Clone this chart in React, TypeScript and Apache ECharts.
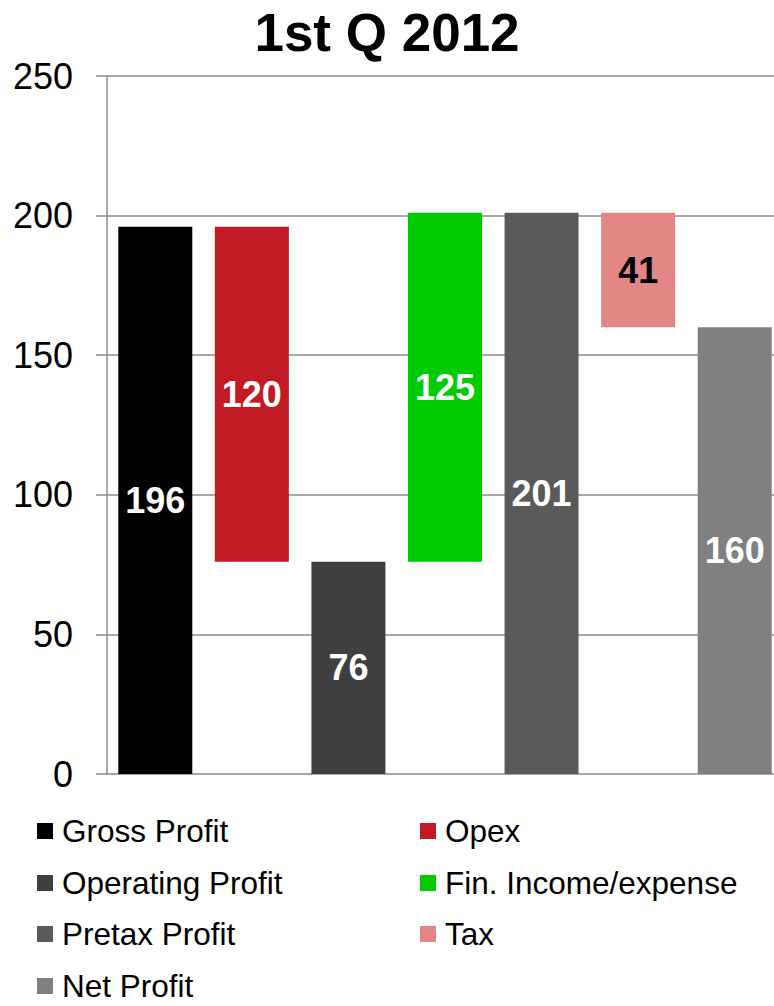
import React, { useEffect, useRef } from "react";
import * as echarts from "echarts";

const categories = [
  "Gross Profit",
  "Opex",
  "Operating Profit",
  "Fin. Income/expense",
  "Pretax Profit",
  "Tax",
  "Net Profit",
];
const values = [196, 120, 76, 125, 201, 41, 160];
const bases = [0, 76, 0, 76, 0, 160, 0];
const colors = ["#000000", "#c21b26", "#404040", "#00cc00", "#5a5a5a", "#e38686", "#808080"];
const labelColors = ["#ffffff", "#ffffff", "#ffffff", "#ffffff", "#ffffff", "#000000", "#ffffff"];
const yTicks = { min: 0, max: 250, interval: 50 };

const FONT = "'Liberation Sans', Arial, sans-serif";

export default function App() {
  const ref = useRef<HTMLDivElement>(null);
  useEffect(() => {
    if (!ref.current) return;
    const chart = echarts.init(ref.current, null, { renderer: "svg" });

    const seriesList: any[] = [
      {
        name: "__base",
        type: "bar",
        stack: "wf",
        silent: true,
        barWidth: 74,
        itemStyle: { color: "rgba(0,0,0,0)" },
        data: bases,
      },
    ];
    categories.forEach((name, i) => {
      seriesList.push({
        name,
        type: "bar",
        stack: "wf",
        barWidth: 74,
        itemStyle: { color: colors[i] },
        label: {
          show: true,
          position: "inside",
          color: labelColors[i],
          fontSize: 36,
          fontWeight: "bold",
          fontFamily: FONT,
        },
        data: values.map((v, j) => (j === i ? v : "-")),
      });
    });

    const colX = [37, 420];
    const rowTop = [815, 867, 918, 970];
    const legends = categories.map((name, i) => ({
      data: [name],
      left: colX[i % 2],
      top: rowTop[Math.floor(i / 2)],
      padding: 0,
      icon: "rect",
      itemWidth: 16,
      itemHeight: 16,
      selectedMode: false,
      textStyle: {
        fontSize: 31.5,
        color: "#000",
        fontFamily: FONT,
        lineHeight: 30,
        padding: [0, 0, 0, 4],
      },
    }));

    chart.setOption({
      animation: false,
      textStyle: { fontFamily: FONT },
      title: {
        text: "1st Q 2012",
        left: 387,
        textAlign: "center",
        top: 6,
        padding: 0,
        textStyle: { fontSize: 53, fontWeight: "bold", color: "#000", fontFamily: FONT },
      },
      legend: legends,
      grid: { left: 107, top: 76, bottom: 232, right: 0, containLabel: false },
      xAxis: {
        type: "category",
        data: categories,
        axisLabel: { show: false },
        axisTick: { show: false },
        axisLine: { show: true, lineStyle: { color: "#a6a6a6", width: 2 } },
      },
      yAxis: {
        type: "value",
        min: yTicks.min,
        max: yTicks.max,
        interval: yTicks.interval,
        axisLine: { show: true, lineStyle: { color: "#8c8c8c", width: 1.5 } },
        axisTick: { show: true, length: 11, lineStyle: { color: "#8c8c8c", width: 1.5 } },
        axisLabel: { fontSize: 36, color: "#000", margin: 34, fontFamily: FONT },
        splitLine: { show: true, lineStyle: { color: "#8c8c8c", width: 1.5 } },
      },
      series: seriesList,
    });
    return () => chart.dispose();
  }, []);
  return (
    <div style={{ position: "absolute", left: 0, top: 0, width: 774, height: 1006, overflow: "hidden" }}>
      <div ref={ref} style={{ width: 783, height: 1006 }} />
    </div>
  );
}
